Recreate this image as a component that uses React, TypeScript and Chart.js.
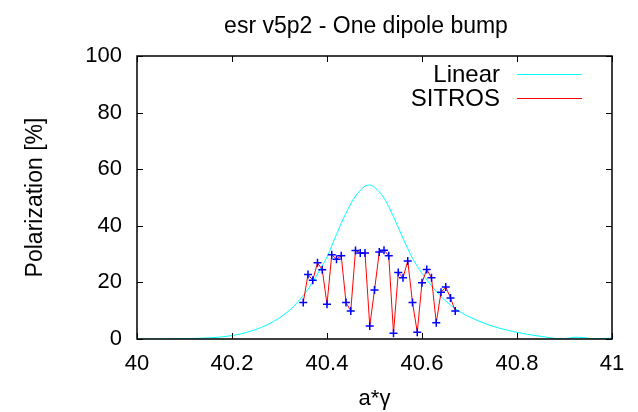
import React, { useEffect, useRef } from "react";
import { Chart, registerables } from "chart.js";

Chart.register(...registerables);

const chartTitle = "esr v5p2 - One dipole bump";
const xTitle = "a*\u03b3";
const yTitle = "Polarization [%]";

const xTickValues = [40, 40.2, 40.4, 40.6, 40.8, 41];
const xTickLabels = ["40", "40.2", "40.4", "40.6", "40.8", "41"];
const yTickValues = [0, 20, 40, 60, 80, 100];
const yTickLabels = ["0", "20", "40", "60", "80", "100"];

const linearLabel = "Linear";
const linearX = [
  40.0, 40.04, 40.08, 40.12, 40.16, 40.2, 40.24, 40.28, 40.3, 40.32, 40.34, 40.36, 40.38, 40.4,
  40.42, 40.44, 40.46, 40.48, 40.49, 40.5, 40.52, 40.54, 40.56, 40.58, 40.6, 40.62, 40.64, 40.66,
  40.68, 40.7, 40.74, 40.78, 40.82, 40.86, 40.88, 40.9, 40.92, 40.94, 40.96, 41.0,
];
const linearY = [
  0.0, 0.0, 0.1, 0.2, 0.5, 1.2, 2.8, 5.5, 7.5, 10.0, 13.4, 17.6, 23.0, 29.0,
  37.0, 44.5, 50.5, 54.0, 54.4, 53.6, 49.8, 43.2, 35.6, 28.5, 23.2, 18.8, 15.0, 12.0,
  9.6, 7.8, 5.0, 3.1, 1.7, 0.7, 0.2, 0.1, 0.6, 0.5, 0.1, 0.3,
];

const sitrosLabel = "SITROS";
const sitrosX = [
  40.35, 40.36, 40.37, 40.38, 40.39, 40.4, 40.41, 40.42, 40.43, 40.44, 40.45, 40.46, 40.47,
  40.48, 40.49, 40.5, 40.51, 40.52, 40.53, 40.54, 40.55, 40.56, 40.57, 40.58, 40.59, 40.6,
  40.61, 40.62, 40.63, 40.64, 40.65, 40.66, 40.67,
];
const sitrosY = [
  12.9, 22.8, 20.8, 26.9, 24.5, 12.3, 29.8, 28.2, 29.4, 12.9, 9.9, 31.3, 30.4,
  30.4, 4.6, 17.3, 30.7, 31.4, 29.4, 2.0, 23.5, 21.6, 27.6, 12.9, 2.4, 19.9,
  24.6, 21.6, 5.7, 16.5, 18.4, 14.5, 9.9,
];

const FONT = "'Liberation Sans', Arial, Helvetica, sans-serif";

const framePlugin = {
  id: "gnuFrame",
  afterDraw(chart: any) {
    const { ctx, chartArea: a, scales } = chart;
    ctx.save();
    ctx.strokeStyle = "#000";
    ctx.lineWidth = 1;
    const tl = 6;
    ctx.beginPath();
    xTickValues.forEach((v) => {
      const px = Math.round(scales.x.getPixelForValue(v)) + 0.5;
      ctx.moveTo(px, a.bottom);
      ctx.lineTo(px, a.bottom - tl);
      ctx.moveTo(px, a.top);
      ctx.lineTo(px, a.top + tl);
    });
    yTickValues.forEach((v) => {
      const py = Math.round(scales.y.getPixelForValue(v)) + 0.5;
      ctx.moveTo(a.left, py);
      ctx.lineTo(a.left + tl, py);
      ctx.moveTo(a.right, py);
      ctx.lineTo(a.right - tl, py);
    });
    ctx.stroke();
    ctx.lineWidth = 1.5;
    ctx.strokeRect(a.left, a.top, a.right - a.left, a.bottom - a.top);

    // title
    ctx.fillStyle = "#000";
    ctx.font = `23px ${FONT}`;
    ctx.textAlign = "center";
    ctx.textBaseline = "alphabetic";
    ctx.fillText(chartTitle, 366, 33);

    // legend
    ctx.font = `24px ${FONT}`;
    ctx.textAlign = "right";
    ctx.textBaseline = "middle";
    const rows = [74, 98];
    chart.data.datasets.forEach((ds: any, i: number) => {
      const y = rows[i];
      ctx.fillStyle = "#000";
      ctx.fillText(ds.label, 500, y + 1);
      ctx.strokeStyle = ds.borderColor;
      ctx.lineWidth = 1;
      ctx.beginPath();
      ctx.moveTo(517, Math.round(y) + 0.5);
      ctx.lineTo(582, Math.round(y) + 0.5);
      ctx.stroke();
    });
    ctx.restore();
  },
};

export default function App() {
  const ref = useRef<HTMLCanvasElement | null>(null);
  useEffect(() => {
    if (!ref.current) return;
    const chart = new Chart(ref.current, {
      type: "scatter",
      data: {
        datasets: [
          {
            label: linearLabel,
            data: linearX.map((x, i) => ({ x, y: linearY[i] })),
            showLine: true,
            borderColor: "#00ffff",
            backgroundColor: "#00ffff",
            borderWidth: 1,
            pointRadius: 0,
            cubicInterpolationMode: "monotone",
            order: 2,
          },
          {
            label: sitrosLabel,
            data: sitrosX.map((x, i) => ({ x, y: sitrosY[i] })),
            showLine: true,
            borderColor: "#ff0000",
            backgroundColor: "#ff0000",
            borderWidth: 1,
            pointStyle: "cross",
            pointRadius: 4,
            pointBorderColor: "#0000ff",
            pointBorderWidth: 1.5,
            tension: 0,
            order: 1,
          },
        ],
      },
      options: {
        responsive: false,
        animation: false,
        devicePixelRatio: 1,
        layout: { padding: { top: 56, right: 26, left: 0, bottom: 0 } },
        plugins: {
          legend: { display: false },
          title: { display: false },
          tooltip: { enabled: false },
        },
        scales: {
          x: {
            type: "linear",
            min: 40,
            max: 41,
            grid: { display: false, drawTicks: false },
            border: { display: false },
            afterBuildTicks: (s: any) => {
              s.ticks = xTickValues.map((v) => ({ value: v }));
            },
            afterFit: (s: any) => {
              s.height = 73;
            },
            ticks: {
              autoSkip: false,
              maxRotation: 0,
              padding: 12,
              color: "#000",
              font: { family: FONT, size: 22 },
              callback: (_v: any, i: number) => xTickLabels[i],
            },
            title: {
              display: true,
              text: xTitle,
              color: "#000",
              font: { family: FONT, size: 22 },
              padding: { top: 0, bottom: 0 },
            },
          },
          y: {
            type: "linear",
            min: 0,
            max: 100,
            grid: { display: false, drawTicks: false },
            border: { display: false },
            afterBuildTicks: (s: any) => {
              s.ticks = yTickValues.map((v) => ({ value: v }));
            },
            afterFit: (s: any) => {
              s.width = 137;
            },
            ticks: {
              autoSkip: false,
              padding: 15,
              color: "#000",
              font: { family: FONT, size: 22 },
              callback: (_v: any, i: number) => yTickLabels[i],
            },
            title: {
              display: true,
              text: yTitle,
              color: "#000",
              font: { family: FONT, size: 23 },
              padding: { top: 22, bottom: 0 },
            },
          },
        },
      },
      plugins: [framePlugin],
    } as any);
    return () => chart.destroy();
  }, []);
  return (
    <div style={{ position: "fixed", left: 0, top: 0, width: 638, height: 412, background: "#fff" }}>
      <canvas ref={ref} width={638} height={412} style={{ display: "block" }} />
    </div>
  );
}
